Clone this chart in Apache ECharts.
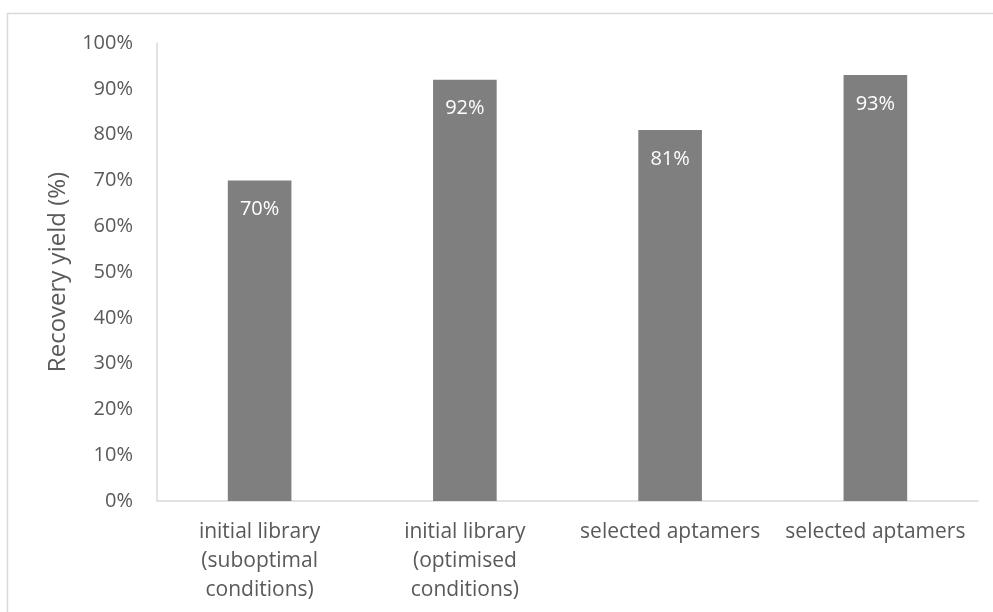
<!DOCTYPE html>
<html>
<head>
<meta charset="utf-8">
<script src="https://cdn.jsdelivr.net/npm/echarts@6/dist/echarts.min.js"></script>
<style>
  html, body { margin: 0; padding: 0; background: #ffffff; }
  #chart { width: 993px; height: 612px; }
</style>
</head>
<body>
<div id="chart"></div>
<script>
// Recovery yield per sample group
const categories = [
  'initial library\n(suboptimal\nconditions)',
  'initial library\n(optimised\nconditions)',
  'selected aptamers',
  'selected aptamers'
];
const recoveryYield = [70, 92, 81, 93];
const yTicks = { min: 0, max: 100, interval: 10 };

const FONT = '"Open Sans", "Liberation Sans", sans-serif';
const TEXT = '#595959';
const LINE = '#d9d9d9';

const chart = echarts.init(document.getElementById('chart'), null, { renderer: 'canvas' });

chart.setOption({
  backgroundColor: '#ffffff',
  animation: false,
  graphic: [{
    type: 'rect',
    shape: { x: 7.5, y: 13.5, width: 1000, height: 700 },
    style: { fill: 'none', stroke: LINE, lineWidth: 1.5 },
    silent: true
  }],
  grid: { left: 157, right: 15, top: 43, bottom: 111, containLabel: false },
  xAxis: {
    type: 'category',
    data: categories,
    axisLine: { show: true, lineStyle: { color: LINE, width: 1.5 } },
    axisTick: { show: false },
    axisLabel: {
      interval: 0,
      margin: 17,
      color: TEXT,
      fontFamily: FONT,
      fontSize: 21,
      lineHeight: 29,
      align: 'center'
    }
  },
  yAxis: {
    type: 'value',
    min: yTicks.min,
    max: yTicks.max,
    interval: yTicks.interval,
    name: 'Recovery yield (%)',
    nameLocation: 'middle',
    nameGap: 87,
    nameTextStyle: { color: TEXT, fontFamily: FONT, fontSize: 24 },
    axisLine: { show: true, lineStyle: { color: LINE, width: 1.5 } },
    axisTick: { show: false },
    splitLine: { show: false },
    axisLabel: {
      margin: 24,
      color: TEXT,
      fontFamily: FONT,
      fontSize: 20,
      formatter: v => v + '%'
    }
  },
  series: [{
    type: 'bar',
    data: recoveryYield,
    barWidth: '31%',
    itemStyle: { color: '#7f7f7f' },
    label: {
      show: true,
      position: 'insideTop',
      distance: 19,
      color: '#ffffff',
      fontFamily: FONT,
      fontSize: 20,
      formatter: p => p.value + '%'
    }
  }]
});
</script>
</body>
</html>
